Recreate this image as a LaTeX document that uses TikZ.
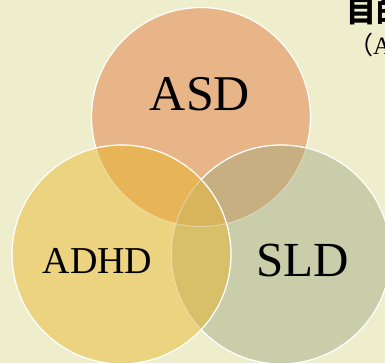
\documentclass[tikz,border=0pt]{standalone}
\usepackage{fontspec}
\setmainfont{Liberation Serif}
\newfontfamily\cjk{Noto Sans CJK SC}
\definecolor{bgcol}{HTML}{EEEDCC}
\definecolor{asdcol}{HTML}{E8B588}
\definecolor{adhdcol}{HTML}{EBD37F}
\definecolor{sldcol}{HTML}{C9CDA9}
\definecolor{ahcol}{HTML}{E8B458}
\definecolor{ascol}{HTML}{C8AF82}
\definecolor{hscol}{HTML}{D7C069}
\definecolor{midcol}{HTML}{D8B45C}

\begin{document}
\begin{tikzpicture}[x=1pt,y=-1pt]
			\tikzset{rim/.style={draw=white, line width=1.2pt},
				faintrim/.style={draw=white, draw opacity=.35, line width=1pt},
				label/.style={font=\fontsize{#1}{#1}\selectfont, inner sep=0pt}}
			\def \radius {109.5}
			
			\useasboundingbox (0,0) rectangle (385,363);
			\clip (0,0) rectangle (385,363);
			\fill[bgcol] (0,0) rectangle (385,363);
			
			\coordinate (asd) at (201,117);
			\coordinate (adhd) at (121.5,254.5);
			\coordinate (sld) at (281,254.5);
			
			% plain discs
			\fill[asdcol] (asd) circle (\radius);
			\fill[sldcol] (sld) circle (\radius);
			\fill[adhdcol] (adhd) circle (\radius);
			
			% overlaps
			\begin{scope}
				\clip (asd) circle (\radius);
				\fill[ahcol] (adhd) circle (\radius);
				\fill[ascol] (sld) circle (\radius);
			\end{scope}
			\begin{scope}
				\clip (adhd) circle (\radius);
				\fill[hscol] (sld) circle (\radius);
				\clip (asd) circle (\radius);
				\fill[midcol] (sld) circle (\radius);
			\end{scope}
			
			% rims
			\foreach \c in {asd,sld,adhd}
				\draw[faintrim] (\c) circle (\radius);
			\begin{scope}[even odd rule]
				\clip (-50,-50) rectangle (450,450) (adhd) circle (\radius);
				\draw[rim] (sld) circle (\radius);
				\clip (-50,-50) rectangle (450,450) (sld) circle (\radius);
				\draw[rim] (asd) circle (\radius);
			\end{scope}
			\draw[rim] (adhd) circle (\radius);
			
			\node[label=50] (tasd) at (200,94) {ASD};
			\node[label=38] (tadhd) at (97.5,261) {ADHD};
			\node[label=49] (tsld) at (303,260.5) {SLD};
			
			\node[anchor=north west, inner sep=0pt, font=\cjk\bfseries\fontsize{30}{30}\selectfont] (title) at (346,-3) {目的};
			\node[anchor=base west, inner sep=0pt, font=\fontsize{25}{25}\selectfont] (sub) at (348,55) {{\cjk （}A};
		\end{tikzpicture}
\end{document}
